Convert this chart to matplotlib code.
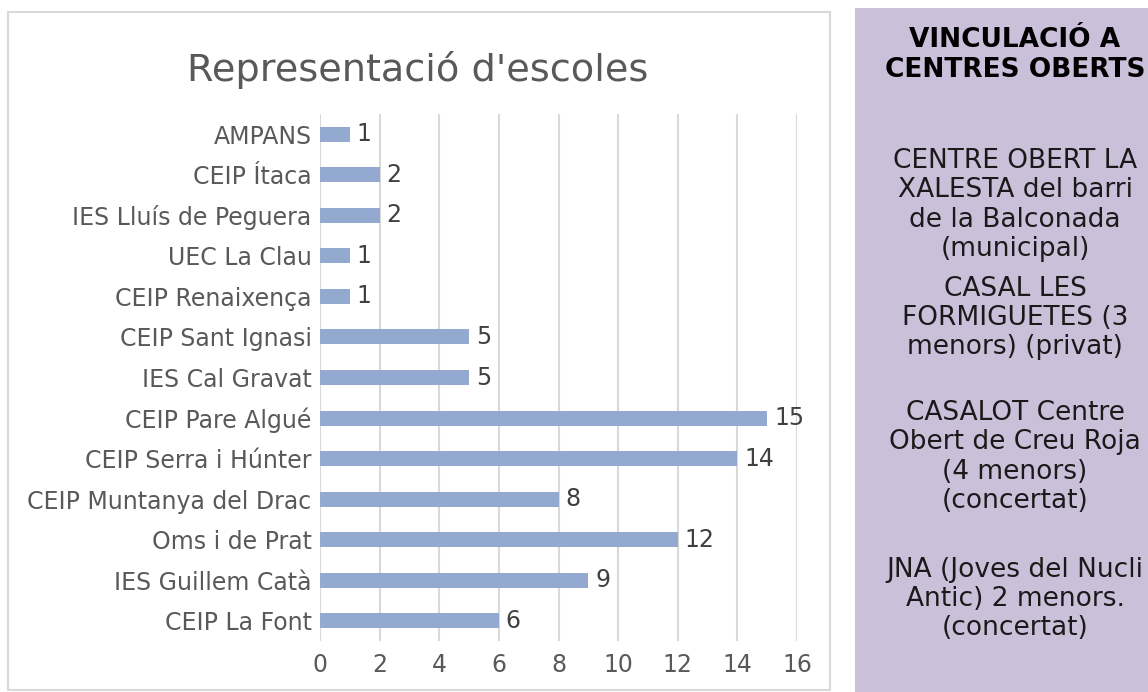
import matplotlib
matplotlib.use('Agg')
import matplotlib.pyplot as plt
from matplotlib.patches import Rectangle

# ── data ─────────────────────────────────────────────────────────────────────
SCHOOLS = [
    'AMPANS', 'CEIP Ítaca', 'IES Lluís de Peguera', 'UEC La Clau',
    'CEIP Renaixença', 'CEIP Sant Ignasi', 'IES Cal Gravat', 'CEIP Pare Algué',
    'CEIP Serra i Húnter', 'CEIP Muntanya del Drac', 'Oms i de Prat',
    'IES Guillem Catà', 'CEIP La Font',
]
COUNTS = [1, 2, 2, 1, 1, 5, 5, 15, 14, 8, 12, 9, 6]
X_TICKS = [0, 2, 4, 6, 8, 10, 12, 14, 16]

TITLE = "Representació d'escoles"
PANEL_TITLE = 'VINCULACIÓ A\nCENTRES OBERTS'
PANEL_ITEMS = [
    'CENTRE OBERT LA\nXALESTA del barri\nde la Balconada\n(municipal)',
    'CASAL LES\nFORMIGUETES (3\nmenors) (privat)',
    'CASALOT Centre\nObert de Creu Roja\n(4 menors)\n(concertat)',
    'JNA (Joves del Nucli\nAntic) 2 menors.\n(concertat)',
]

# ── styles ───────────────────────────────────────────────────────────────────
BAR_COLOR  = '#93a9cf'
TEXT_COLOR = '#595959'
GRID_COLOR = '#d9d9d9'
PANEL_BG   = '#cbc0da'

W, H = 1148, 692
fig = plt.figure(figsize=(W / 100, H / 100), dpi=100)

# chart frame
fig.patches.append(Rectangle((8 / W, 2 / H), 822 / W, 678 / H,
                             transform=fig.transFigure, fill=False,
                             edgecolor=GRID_COLOR, linewidth=1.5))
# side panel
fig.patches.append(Rectangle((855 / W, 0), 320 / W, 684 / H,
                             transform=fig.transFigure, facecolor=PANEL_BG,
                             edgecolor='none'))

ax = fig.add_axes([320 / W, 1 - 641 / H, 477 / W, 527 / H])
y = list(range(len(SCHOOLS)))
ax.barh(y, COUNTS, height=0.37, color=BAR_COLOR, zorder=3)
for yi, v in zip(y, COUNTS):
    ax.annotate(str(v), xy=(v, yi), xytext=(5, 0), textcoords='offset points',
                va='center', ha='left', fontsize=17, color='#404040')

ax.set_xlim(0, 16)
ax.set_ylim(len(SCHOOLS) - 0.5, -0.5)
ax.set_yticks(y)
ax.set_yticklabels(SCHOOLS)
ax.set_xticks(X_TICKS)
ax.tick_params(axis='both', length=0, labelsize=17, labelcolor=TEXT_COLOR)
ax.tick_params(axis='y', pad=6)
ax.tick_params(axis='x', pad=9)
for s in ax.spines.values():
    s.set_visible(False)
ax.grid(True, axis='x', color=GRID_COLOR, linewidth=1.5, zorder=0)
ax.set_facecolor('none')

fig.text(418 / W, 1 - 70 / H, TITLE, ha='center', va='center',
         fontsize=27.5, color=TEXT_COLOR)

# panel text
cx = 1015 / W
fig.text(cx, 1 - 55 / H, PANEL_TITLE, ha='center', va='center', fontsize=19,
         fontweight='bold', color='black', linespacing=1.16)
mids = [205, 318, 457, 599]
for mid, txt in zip(mids, PANEL_ITEMS):
    fig.text(cx, 1 - mid / H, txt, ha='center', va='center', fontsize=19,
             color='#1a1a1a', linespacing=1.16)

fig.savefig('out.png', dpi=100)
